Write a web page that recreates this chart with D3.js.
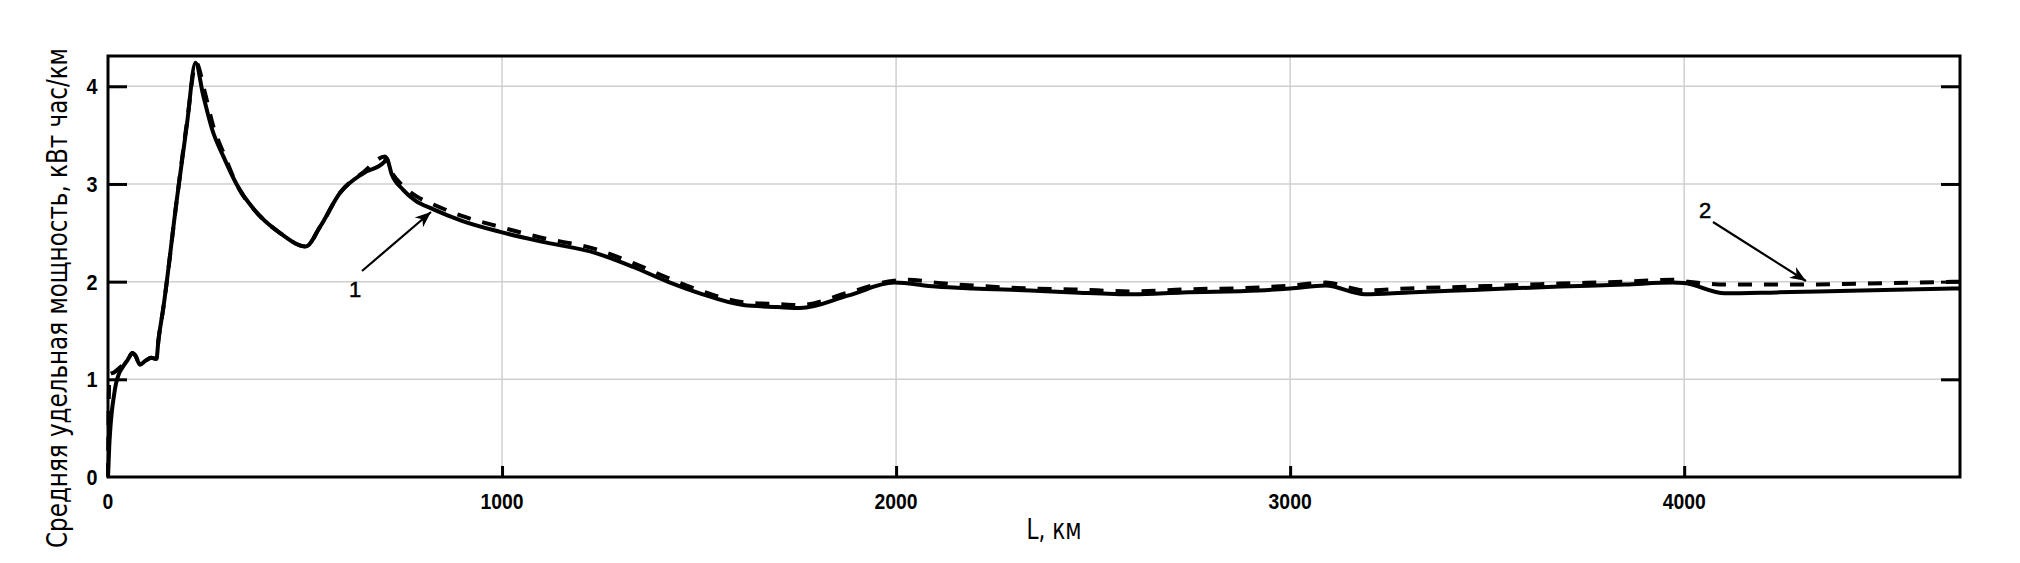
<!DOCTYPE html>
<html>
<head>
<meta charset="utf-8">
<script src="https://cdn.jsdelivr.net/npm/d3@7"></script>
<style>
  html, body { margin: 0; padding: 0; background: #fff; }
  svg { display: block; }
</style>
</head>
<body>
<svg id="chart" width="2020" height="563"></svg>
<script>
// ---- data ----
const xTicks = [0, 1000, 2000, 3000, 4000];
const yTicks = [0, 1, 2, 3, 4];
const xLabel = "L, км";
const yLabel = "Средняя удельная мощность, кВт час/км";

// series 1 (solid)
const s1L = [0,3,6,10,15,20,28,38,50,62,70,81,95,110,123,128,140,175,200,222,242,265,293,326,386,436,502,538,589,648,700,707,720,749,780,826,900,995,1100,1240,1333,1420,1502,1612,1700,1756,1880,1995,2100,2195,2340,2450,2602,2727,2920,3000,3090,3190,3300,3465,3685,3850,3971,4000,4103,4235,4450,4700];
const s1P = [0,0.3,0.5,0.68,0.83,0.95,1.06,1.13,1.2,1.27,1.24,1.15,1.19,1.22,1.21,1.40,1.72,2.85,3.6,4.24,3.9,3.55,3.28,3.0,2.67,2.5,2.36,2.56,2.91,3.11,3.22,3.26,3.1,2.94,2.83,2.74,2.62,2.51,2.41,2.29,2.15,2.0,1.88,1.76,1.74,1.73,1.86,1.99,1.95,1.93,1.91,1.89,1.87,1.89,1.91,1.93,1.96,1.87,1.89,1.915,1.95,1.97,1.99,1.985,1.88,1.89,1.91,1.93];

// series 2 (dashed)
const s2L = [0,2,4,15,30,50,62,70,81,95,110,123,128,140,175,200,224,245,268,295,326,386,436,502,538,589,648,703,720,749,780,826,900,995,1100,1240,1333,1420,1502,1612,1700,1756,1880,1995,2031,2100,2195,2340,2450,2602,2727,2920,3000,3090,3190,3300,3465,3685,3850,3971,4010,4110,4270,4450,4700];
const s2P = [0,0.8,1.05,1.07,1.12,1.2,1.27,1.24,1.15,1.19,1.22,1.21,1.40,1.72,2.85,3.62,4.24,3.95,3.58,3.3,3.0,2.67,2.5,2.36,2.56,2.91,3.12,3.28,3.12,2.98,2.88,2.79,2.67,2.56,2.45,2.33,2.19,2.04,1.91,1.79,1.77,1.76,1.89,2.01,2.02,1.99,1.96,1.93,1.92,1.9,1.92,1.94,1.96,1.99,1.91,1.93,1.95,1.98,2.0,2.02,2.0,1.97,1.97,1.98,2.0];

const xDomain = [0, 4700];
const yDomain = [0, 4.31];

// ---- layout ----
const pL = 108, pR = 1960, pT = 56, pB = 477;
const svg = d3.select("#chart");
svg.append("rect").attr("width", 2020).attr("height", 563).attr("fill", "#fff");

const x = d3.scaleLinear().domain(xDomain).range([pL, pR]);
const y = d3.scaleLinear().domain(yDomain).range([pB, pT]);

// gridlines
const grid = svg.append("g");
grid.selectAll("line.gy").data(yTicks.filter(d => d > 0)).join("line")
  .attr("x1", pL).attr("x2", pR)
  .attr("y1", d => y(d)).attr("y2", d => y(d))
  .attr("stroke", "#cfcfcf").attr("stroke-width", 1.5);
grid.selectAll("line.gx").data(xTicks.filter(d => d > 0)).join("line")
  .attr("y1", pT).attr("y2", pB)
  .attr("x1", d => x(d)).attr("x2", d => x(d))
  .attr("stroke", "#cfcfcf").attr("stroke-width", 1.5);

// axes (inward ticks)
const fontTick = "'Liberation Sans', Arial, sans-serif";
const yAxisL = svg.append("g").attr("transform", `translate(${pL},0)`)
  .call(d3.axisRight(y).tickValues(yTicks.filter(d => d > 0)).tickSize(19).tickFormat(""));
const yAxisR = svg.append("g").attr("transform", `translate(${pR},0)`)
  .call(d3.axisLeft(y).tickValues(yTicks.filter(d => d > 0)).tickSize(19).tickFormat(""));
const xAxisB = svg.append("g").attr("transform", `translate(0,${pB})`)
  .call(d3.axisTop(x).tickValues(xTicks.filter(d => d > 0)).tickSize(11).tickFormat(""));
[yAxisL, yAxisR, xAxisB].forEach(g => {
  g.select(".domain").remove();
  g.selectAll(".tick line").attr("stroke", "#000").attr("stroke-width", 3);
});

// tick labels (slightly condensed bold digits)
svg.append("g").selectAll("text").data(yTicks).join("text")
  .attr("transform", d => `translate(92,${y(d) + 8}) scale(0.9,1)`)
  .attr("text-anchor", "middle")
  .attr("font-family", fontTick).attr("font-weight", "bold").attr("font-size", 22)
  .text(d => d);
svg.append("g").selectAll("text").data(xTicks).join("text")
  .attr("transform", d => `translate(${x(d)},509) scale(0.88,1)`)
  .attr("text-anchor", "middle")
  .attr("font-family", fontTick).attr("font-weight", "bold").attr("font-size", 22)
  .text(d => d);

// lines
const line = d3.line().x(d => x(d[0])).y(d => y(d[1])).curve(d3.curveMonotoneX);
const d1 = s1L.map((v, i) => [v, s1P[i]]);
const d2 = s2L.map((v, i) => [v, s2P[i]]);
svg.append("path").attr("d", line(d2)).attr("fill", "none")
  .attr("stroke", "#000").attr("stroke-width", 4).attr("stroke-dasharray", "14,12");
svg.append("path").attr("d", line(d1)).attr("fill", "none")
  .attr("stroke", "#000").attr("stroke-width", 4).attr("stroke-linejoin", "round");

// frame
svg.append("rect").attr("x", pL).attr("y", pT)
  .attr("width", pR - pL).attr("height", pB - pT)
  .attr("fill", "none").attr("stroke", "#000").attr("stroke-width", 3);

// annotations
const defs = svg.append("defs");
defs.append("marker").attr("id", "arr").attr("viewBox", "0 0 10 10")
  .attr("refX", 10).attr("refY", 5).attr("markerWidth", 16).attr("markerHeight", 16)
  .attr("markerUnits", "userSpaceOnUse").attr("orient", "auto")
  .append("path").attr("d", "M0,1 L10,5 L0,9 L3,5 Z").attr("fill", "#000");

const ann = [
  {t: "1", tx: 355, ty: 297, x1: 362, y1: 271, x2: 431, y2: 212},
  {t: "2", tx: 1705, ty: 218, x1: 1713, y1: 222, x2: 1806, y2: 281}
];
svg.append("g").selectAll("line").data(ann).join("line")
  .attr("x1", d => d.x1).attr("y1", d => d.y1).attr("x2", d => d.x2).attr("y2", d => d.y2)
  .attr("stroke", "#000").attr("stroke-width", 2.2).attr("marker-end", "url(#arr)");
svg.append("g").selectAll("text").data(ann).join("text")
  .attr("x", d => d.tx).attr("y", d => d.ty).attr("text-anchor", "middle")
  .attr("font-family", fontTick).attr("font-size", 22)
  .attr("stroke", "#000").attr("stroke-width", 0.5)
  .text(d => d.t);

// axis titles
const fontTitle = "'Liberation Sans Narrow', 'DejaVu Sans Condensed', 'Roboto', sans-serif";
svg.append("text").attr("x", 1054).attr("y", 539).attr("text-anchor", "middle")
  .attr("font-family", fontTitle).attr("font-size", 28)
  .attr("textLength", 55).attr("lengthAdjust", "spacingAndGlyphs")
  .text(xLabel);
svg.append("text").attr("transform", "translate(67,298) rotate(-90)")
  .attr("text-anchor", "middle")
  .attr("font-family", fontTitle).attr("font-size", 28)
  .attr("textLength", 500).attr("lengthAdjust", "spacingAndGlyphs")
  .text(yLabel);
</script>
</body>
</html>
